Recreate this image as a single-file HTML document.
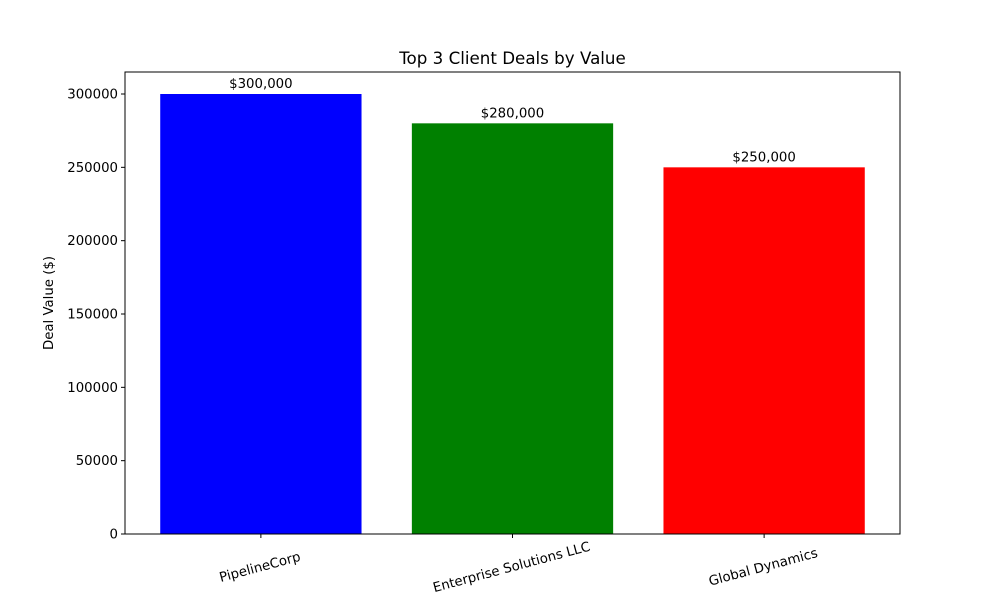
<!DOCTYPE html>
<html><head><meta charset="utf-8"><style>
body{margin:0;background:#fff;}
svg{display:block;font-family:"DejaVu Sans","Liberation Sans",sans-serif;}
</style></head><body>
<svg id="chart" width="1000" height="600">
<text x="512.5" y="64" text-anchor="middle" font-size="16.7">Top 3 Client Deals by Value</text>
<text transform="translate(53,303) rotate(-90)" text-anchor="middle" font-size="13.3">Deal Value ($)</text>
<g id="marks"></g>
<rect x="125" y="72" width="775" height="462" fill="none" stroke="#000" stroke-width="1"/>
</svg>
<script>
const categories=["PipelineCorp","Enterprise Solutions LLC","Global Dynamics"];
const values=[300000,280000,250000];
const valueLabels=["$300,000","$280,000","$250,000"];
const colors=["#0000ff","#008000","#ff0000"];
const yTicks=[0,50000,100000,150000,200000,250000,300000];
const L=125,R=900,T=72,B=534,yMax=315000,xMin=-0.54,xMax=2.54;
const ys=v=>B-v/yMax*(B-T);
const xs=i=>L+(i-xMin)/(xMax-xMin)*(R-L);
const g=document.getElementById('marks');
const NS='http://www.w3.org/2000/svg';
function mk(t,a){const e=document.createElementNS(NS,t);for(const k in a)e.setAttribute(k,a[k]);g.appendChild(e);return e;}
const bw=0.8*(R-L)/(xMax-xMin);
values.forEach((v,i)=>{
 const b=mk('rect',{x:xs(i)-bw/2,y:ys(v),width:bw,height:B-ys(v),fill:colors[i]});
 
 
 const t=mk('text',{x:xs(i),y:ys(v)-6,'text-anchor':'middle','font-size':13.3});
 t.textContent=valueLabels[i];
 
 
 const tk=mk('line',{x1:xs(i),x2:xs(i),y1:B,y2:B+4,stroke:'#000'});
 
 
 const lb=mk('text',{transform:`translate(${xs(i)-5},${B+18}) rotate(-15)`,'text-anchor':'middle','font-size':13.3,dy:'1.5em'});
 lb.textContent=categories[i];
 
 
});
yTicks.forEach(v=>{
 const tk=mk('line',{x1:L-4,x2:L,y1:ys(v),y2:ys(v),stroke:'#000'});
 
 
 const t=mk('text',{x:L-7,y:ys(v)+4.5,'text-anchor':'end','font-size':13.3});
 t.textContent=v;
 
 
});
</script>
</body></html>
